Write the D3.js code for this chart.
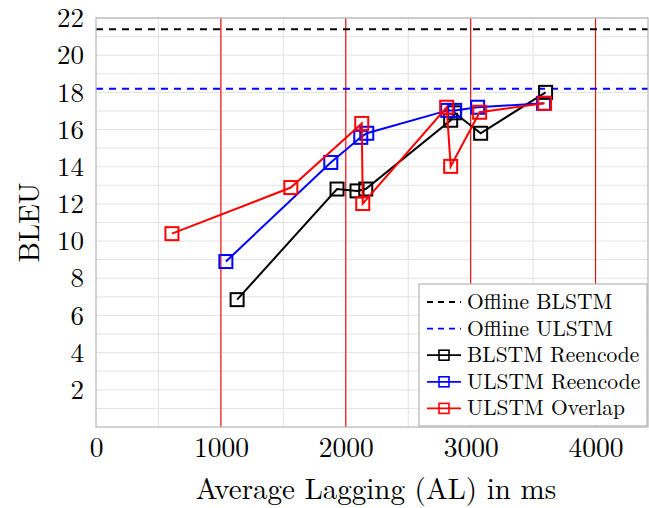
<!DOCTYPE html>
<html><head><meta charset="utf-8">
<script src="https://cdn.jsdelivr.net/npm/d3@7"></script>
<style>body{margin:0;background:#fff}</style>
</head><body>
<script>
const blstmX = [1130, 1930, 2090, 2160, 2840, 2870, 3080, 3600];
const blstmY = [6.85, 12.8, 12.7, 12.8, 16.5, 16.9, 15.8, 18.0];
const ulstmX = [1040, 1880, 2120, 2168, 2816, 2872, 3056, 3584];
const ulstmY = [8.9, 14.23, 15.58, 15.8, 17.03, 17.03, 17.2, 17.41];
const overlapX = [608, 1560, 2128, 2136, 2808, 2840, 3072, 3592];
const overlapY = [10.4, 12.88, 16.33, 12.02, 17.2, 14.02, 16.93, 17.41];
const offlineBLSTM = 21.4;
const offlineULSTM = 18.2;
const redLines = [1000, 2000, 3000, 4000];
const xTicks = [0, 1000, 2000, 3000, 4000];
const yTicks = [2, 4, 6, 8, 10, 12, 14, 16, 18, 20, 22];

const W = 649, H = 508;
const m = {l: 96, r: 1, t: 18, b: 81};
const svg = d3.select("body").append("svg").attr("width", W).attr("height", H);
const x = d3.scaleLinear().domain([0, 4420]).range([m.l, W - m.r]);
const y = d3.scaleLinear().domain([0, 22]).range([H - m.b, m.t]);
const font = "'Latin Modern Roman','Liberation Serif','DejaVu Serif',serif";

// grid
const g = svg.append("g");
g.selectAll(".gx").data(d3.range(500, 4420, 500)).enter().append("line")
  .attr("x1", d => x(d)).attr("x2", d => x(d)).attr("y1", y(0)).attr("y2", y(22))
  .attr("stroke", "#e3e3e3").attr("stroke-width", 1);
g.selectAll(".gy").data(d3.range(1, 23, 1)).enter().append("line")
  .attr("x1", x(0)).attr("x2", x(4420)).attr("y1", d => y(d)).attr("y2", d => y(d))
  .attr("stroke", "#e3e3e3").attr("stroke-width", 1);

// red vertical lines
g.selectAll(".rv").data(redLines).enter().append("line")
  .attr("x1", d => x(d)).attr("x2", d => x(d)).attr("y1", y(0)).attr("y2", y(22))
  .attr("stroke", "#f01010").attr("stroke-width", 1.2);

// dashed lines
[[offlineBLSTM, "#000"], [offlineULSTM, "#0000ff"]].forEach(([v, c]) => {
  svg.append("line").attr("x1", x(0)).attr("x2", x(4420)).attr("y1", y(v)).attr("y2", y(v))
    .attr("stroke", c).attr("stroke-width", 2).attr("stroke-dasharray", "7,6");
});

// frame
svg.append("rect").attr("x", x(0)).attr("y", y(22)).attr("width", x(4420) - x(0)).attr("height", y(0) - y(22))
  .attr("fill", "none").attr("stroke", "#b5b5b5").attr("stroke-width", 1.2);

// axes ticks labels
const xa = d3.axisBottom(x).tickValues(xTicks).tickSize(0).tickPadding(10).tickFormat(d3.format("d"));
const xg = svg.append("g").attr("transform", `translate(0,${y(0)})`).call(xa);
xg.select(".domain").remove();
xg.selectAll("text").attr("font-family", font).attr("font-size", 27.5).attr("fill", "#000");
const ya = d3.axisLeft(y).tickValues(yTicks).tickSize(0).tickPadding(12).tickFormat(d3.format("d"));
const yg = svg.append("g").attr("transform", `translate(${x(0)},0)`).call(ya);
yg.select(".domain").remove();
yg.selectAll("text").attr("font-family", font).attr("font-size", 27).attr("fill", "#000");

svg.append("text").attr("x", 376).attr("y", 499).attr("text-anchor", "middle")
  .attr("font-family", font).attr("font-size", 29).text("Average Lagging (AL) in ms");
svg.append("text").attr("transform", `translate(39,${(y(0)+y(22))/2}) rotate(-90)`).attr("text-anchor", "middle")
  .attr("font-family", font).attr("font-size", 29).text("BLEU");

// series
const series = [
  {xs: blstmX, ys: blstmY, c: "#000"},
  {xs: ulstmX, ys: ulstmY, c: "#0000ff"},
  {xs: overlapX, ys: overlapY, c: "#ff0000"}
];
const line = d3.line().x(d => x(d[0])).y(d => y(d[1]));
series.forEach(s => {
  const pts = s.xs.map((v, i) => [v, s.ys[i]]);
  svg.append("path").datum(pts).attr("d", line).attr("fill", "none").attr("stroke", s.c).attr("stroke-width", 2);
  svg.append("g").selectAll("rect").data(pts).enter().append("rect")
    .attr("x", d => x(d[0]) - 6.5).attr("y", d => y(d[1]) - 6.5).attr("width", 13).attr("height", 13)
    .attr("fill", "none").attr("stroke", s.c).attr("stroke-width", 2);
});

// legend
const lg = svg.append("g");
lg.append("rect").attr("x", 419).attr("y", 284).attr("width", 228).attr("height", 142)
  .attr("fill", "#fff").attr("stroke", "#b5b5b5").attr("stroke-width", 1.2);
const items = [
  {t: "Offline BLSTM", c: "#000", dash: true},
  {t: "Offline ULSTM", c: "#0000ff", dash: true},
  {t: "BLSTM Reencode", c: "#000"},
  {t: "ULSTM Reencode", c: "#0000ff"},
  {t: "ULSTM Overlap", c: "#ff0000"}
];
items.forEach((it, i) => {
  const yy = 302 + i * 26.6;
  lg.append("line").attr("x1", 427).attr("x2", 461).attr("y1", yy).attr("y2", yy)
    .attr("stroke", it.c).attr("stroke-width", 1.8).attr("stroke-dasharray", it.dash ? "6,5" : null);
  if (!it.dash) lg.append("rect").attr("x", 439).attr("y", yy - 5).attr("width", 10).attr("height", 10)
    .attr("fill", "none").attr("stroke", it.c).attr("stroke-width", 1.6);
  lg.append("text").attr("x", 467).attr("y", yy + 7).attr("font-family", font).attr("font-size", 21.5).text(it.t);
});
</script>
</body></html>
